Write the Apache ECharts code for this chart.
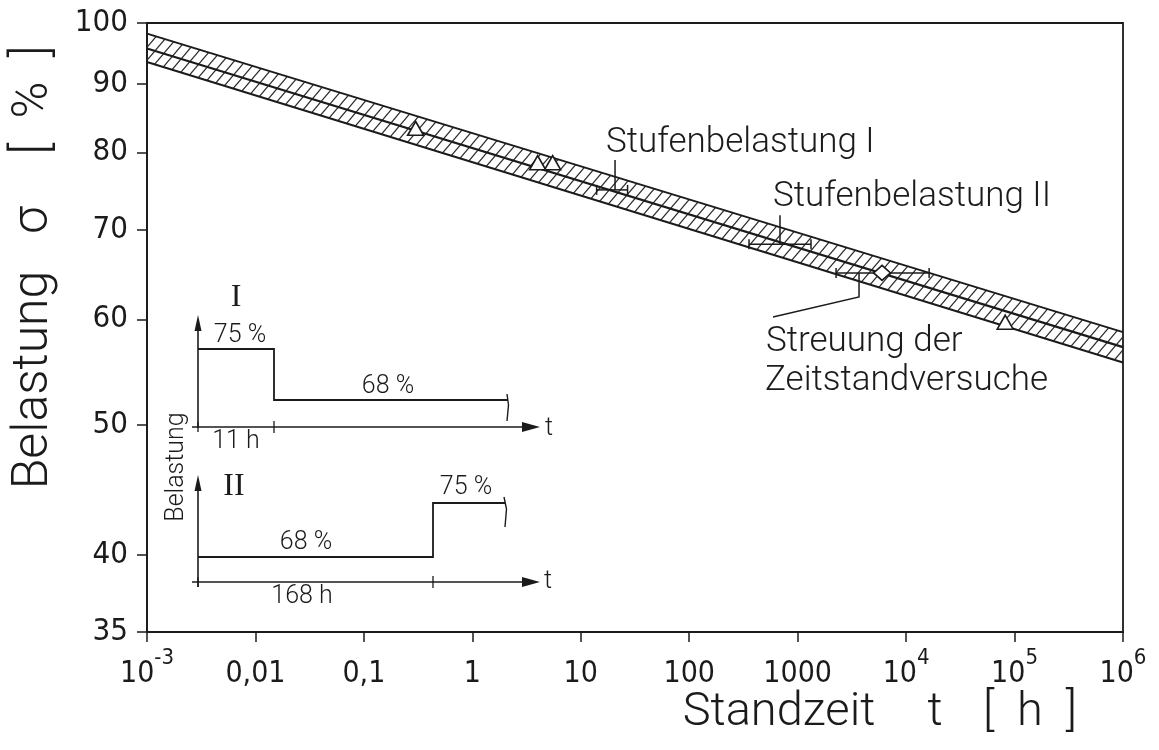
<!DOCTYPE html>
<html>
<head>
<meta charset="utf-8">
<script src="https://cdn.jsdelivr.net/npm/echarts@6/dist/echarts.min.js"></script>
<style>
  html, body { margin: 0; padding: 0; background: #fff; }
  #chart { width: 1159px; height: 750px; }
</style>
</head>
<body>
<div id="chart"></div>
<script>
// Scatter band of the creep-rupture curve: time to rupture (h) vs. load (%)
const bandTime  = [0.001, 1e6];
const bandUpper = [98.2, 58.7];
const bandMean  = [95.7, 57.2];
const bandLower = [93.5, 55.7];

// Individual creep tests (open triangles)
const testTime = [0.3, 4, 5.5, 82000];
const testLoad = [83.4, 78.6, 78.6, 59.7];

// Range bars: step loading I, step loading II, scatter of the creep tests at 65 %
const rangeFrom   = [14, 356, 2260];
const rangeTo     = [27, 1327, 16300];
const rangeLoad   = [75, 68.3, 65];
const rangeLeader = [20.7, 687, 3680];

// Mean of the creep tests at 65 % (diamond)
const meanTime = [6000];
const meanLoad = [65];

// Axis ticks
const xTickExp    = [-3, -2, -1, 0, 1, 2, 3, 4, 5, 6];
const xTickLabels = ['10{s|-3}', '0,01', '0,1', '1', '10', '100', '1000', '10{s|4}', '10{s|5}', '10{s|6}'];
const yTicks      = [35, 40, 50, 60, 70, 80, 90, 100];

const INK = '#1b1b1b';
const SANS = 'Roboto, "Liberation Sans", sans-serif';
const DIGITS = '"Liberation Sans Narrow", "DejaVu Sans Condensed", Roboto, sans-serif';
const SERIF = '"Liberation Serif", "DejaVu Serif", serif';
const lg = Math.log10;

// diagonal hatching used inside the scatter band
function hatchPattern() {
  const w = 11, h = 13;
  const c = document.createElement('canvas');
  c.width = w; c.height = h;
  const g = c.getContext('2d');
  g.strokeStyle = '#2a2a2a';
  g.lineWidth = 1.15;
  for (const off of [-w, 0, w]) {
    g.beginPath();
    g.moveTo(off - 1, h + h / w);
    g.lineTo(off + w + 1, -h / w);
    g.stroke();
  }
  return c;
}
const HATCH = hatchPattern();

// one band segment per pair of neighbouring band points: [t0, lo0, hi0, t1, lo1, hi1]
const bandData = bandTime.slice(1).map((t, k) => [
  lg(bandTime[k]), lg(bandLower[k]), lg(bandUpper[k]),
  lg(t), lg(bandLower[k + 1]), lg(bandUpper[k + 1])
]);
const bandLowerData = bandTime.map((t, i) => [lg(t), lg(bandLower[i])]);
const bandUpperData = bandTime.map((t, i) => [lg(t), lg(bandUpper[i])]);
const bandMeanData  = bandTime.map((t, i) => [lg(t), lg(bandMean[i])]);
const testData  = testTime.map((t, i) => [lg(t), lg(testLoad[i])]);
const meanData  = meanTime.map((t, i) => [lg(t), lg(meanLoad[i])]);
const rangeData = rangeFrom.map((f, i) => [lg(f), lg(rangeTo[i]), lg(rangeLoad[i]), lg(rangeLeader[i])]);

// leader lines from each range bar towards its caption (pixel offsets)
const LEADER_PATHS = [
  [[0, 0], [0, -30]],
  [[0, 0], [0, -29]],
  [[0, 0], [0, 24], [-86, 44]]
];

function line(points, width) {
  return { type: 'polyline', silent: true, shape: { points },
           style: { stroke: INK, lineWidth: width || 1.6, fill: null } };
}
function tri(points) {
  return { type: 'polygon', silent: true, shape: { points }, style: { fill: INK } };
}
function txt(text, x, y, size, opts) {
  opts = opts || {};
  return {
    type: 'text', silent: true, x, y, rotation: opts.rotation || 0,
    style: {
      text, fill: INK, fontSize: size, fontFamily: opts.family || SANS,
      fontWeight: opts.weight || 300, align: opts.align || 'center', verticalAlign: 'middle'
    }
  };
}

// small schematic load histories I and II
const insets = [
  // I
  line([[198, 428], [198, 328]]), tri([[198, 315], [194.5, 331], [201.5, 331]]),
  line([[198, 349], [274, 349], [274, 400], [508, 400]], 1.8),
  line([[507, 394], [508.5, 405], [507, 421]], 1.4),
  line([[192, 427], [526, 427]], 1.4), tri([[540, 427], [522, 422], [522, 432]]),
  line([[274, 421], [274, 433]], 1.3), line([[198, 422], [198, 432]], 1.3),
  txt('I', 236, 298, 32, { family: SERIF, weight: 400 }),
  txt('75 %', 240, 336, 25),
  txt('68 %', 388, 387, 25),
  txt('11 h', 236, 442, 25),
  txt('t', 549, 429, 25),
  // II
  line([[198, 587], [198, 488]]), tri([[198, 475], [194.5, 491], [201.5, 491]]),
  line([[198, 557], [433, 557], [433, 503], [505, 503]], 1.8),
  line([[504, 497], [506.5, 509], [505, 527]], 1.4),
  line([[192, 582], [526, 582]], 1.4), tri([[540, 582], [522, 577], [522, 587]]),
  line([[433, 576], [433, 588]], 1.3), line([[198, 577], [198, 587]], 1.3),
  txt('II', 234, 487, 32, { family: SERIF, weight: 400 }),
  txt('75 %', 466, 488, 25),
  txt('68 %', 306, 543, 25),
  txt('168 h', 302, 597, 25),
  txt('t', 548, 582, 25),
  // shared ordinate caption of the schematics
  txt('Belastung', 177, 467, 25, { rotation: Math.PI / 2 })
];

const captions = [
  txt('Stufenbelastung I', 606, 143, 35, { align: 'left' }),
  txt('Stufenbelastung II', 773, 197, 35, { align: 'left' }),
  txt('Streuung der', 766, 342, 35, { align: 'left' }),
  txt('Zeitstandversuche', 765, 381, 35, { align: 'left' }),
  // axis titles
  txt('Standzeit', 779, 713, 47),
  txt('t', 935, 713, 47),
  txt('[  h  ]', 1030, 713, 47),
  txt('Belastung', 34, 380, 50, { rotation: Math.PI / 2 }),
  txt('σ', 34, 220, 50, { rotation: Math.PI / 2 }),
  txt('[  %  ]', 34, 100, 50, { rotation: Math.PI / 2 })
];

const chart = echarts.init(document.getElementById('chart'), null, { renderer: 'canvas' });

const edgeLine = (name, data, width, z) => ({
  type: 'line', name, data, symbol: 'none', silent: true, z,
  lineStyle: { color: INK, width }
});

chart.setOption({
  animation: false,
  backgroundColor: '#fff',
  grid: { left: 147, right: 36, top: 23, bottom: 118, show: true,
          borderColor: INK, borderWidth: 1.8, backgroundColor: 'transparent' },
  xAxis: {
    type: 'value', min: -3, max: 6, interval: 1,
    axisLine: { onZero: false, lineStyle: { color: INK, width: 1.8 } },
    axisTick: { inside: false, length: 10, lineStyle: { color: INK, width: 1.5 } },
    splitLine: { show: false },
    axisLabel: {
      margin: 15,
      formatter: v => {
        const s = xTickLabels[xTickExp.indexOf(Math.round(v))];
        return s.indexOf('{s|') >= 0 ? s.replace(/^([^{]*)/, '{b|$1}') : '{b|' + s + '}';
      },
      rich: {
        b: { fontSize: 30, fontFamily: DIGITS, color: INK, lineHeight: 42, verticalAlign: 'bottom' },
        s: { fontSize: 22, fontFamily: DIGITS, color: INK, lineHeight: 22, verticalAlign: 'top' }
      }
    }
  },
  yAxis: {
    type: 'value', min: lg(35), max: 2,
    axisLine: { onZero: false, lineStyle: { color: INK, width: 1.8 } },
    axisTick: { inside: false, length: 10, lineStyle: { color: INK, width: 1.5 },
                customValues: yTicks.map(lg) },
    splitLine: { show: false },
    axisLabel: {
      margin: 19, fontSize: 31, fontFamily: DIGITS, color: INK,
      customValues: yTicks.map(lg),
      formatter: v => String(Math.round(Math.pow(10, v)))
    }
  },
  series: [
    { type: 'custom', name: 'band', data: bandData, z: 1, silent: true,
      encode: { x: [0, 3], y: [1, 2, 4, 5] },
      renderItem: (params, api) => {
        const pts = [
          api.coord([api.value(0), api.value(2)]),
          api.coord([api.value(3), api.value(5)]),
          api.coord([api.value(3), api.value(4)]),
          api.coord([api.value(0), api.value(1)])
        ];
        return { type: 'polygon', shape: { points: pts },
                 style: { fill: { image: HATCH, repeat: 'repeat' }, stroke: null } };
      }
    },
    edgeLine('upper', bandUpperData, 1.9, 2),
    edgeLine('lower', bandLowerData, 1.9, 2),
    edgeLine('mean', bandMeanData, 2.3, 3),
    { type: 'custom', name: 'ranges', data: rangeData, z: 4, silent: true,
      encode: { x: [0, 1], y: 2 },
      renderItem: (params, api) => {
        const a = api.coord([api.value(0), api.value(2)]);
        const b = api.coord([api.value(1), api.value(2)]);
        const m = api.coord([api.value(3), api.value(2)]);
        const st = { stroke: INK, lineWidth: 1.5, fill: null };
        const cap = 5;
        return {
          type: 'group',
          children: [
            { type: 'line', shape: { x1: a[0], y1: a[1], x2: b[0], y2: b[1] }, style: st },
            { type: 'line', shape: { x1: a[0], y1: a[1] - cap, x2: a[0], y2: a[1] + cap }, style: st },
            { type: 'line', shape: { x1: b[0], y1: b[1] - cap, x2: b[0], y2: b[1] + cap }, style: st },
            { type: 'polyline', shape: { points: LEADER_PATHS[params.dataIndex].map(p => [m[0] + p[0], m[1] + p[1]]) }, style: st }
          ]
        };
      }
    },
    { type: 'scatter', name: 'tests', data: testData, symbol: 'triangle', symbolSize: [16, 14],
      itemStyle: { color: '#fff', borderColor: INK, borderWidth: 1.6, opacity: 1 }, z: 10, zlevel: 0, silent: true },
    { type: 'scatter', name: 'mean65', data: meanData, symbol: 'diamond', symbolSize: [17, 15],
      itemStyle: { color: '#fff', borderColor: INK, borderWidth: 1.6, opacity: 1 }, z: 10, silent: true }
  ],
  graphic: insets.concat(captions)
});
</script>
</body>
</html>
